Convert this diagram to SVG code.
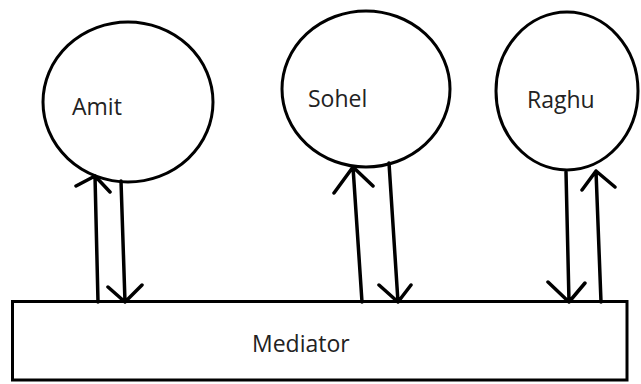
<svg xmlns="http://www.w3.org/2000/svg" width="641" height="384" viewBox="0 0 641 384">
<style>
.node{fill:#fff;stroke:#000;stroke-width:3}
.lbl{font-family:"Open Sans","Liberation Sans",sans-serif;font-size:23px;fill:#222}
.c{fill:none;stroke:#000;stroke-width:3.5;stroke-linecap:round;stroke-linejoin:round}
</style>
<rect width="641" height="384" fill="#fff"/>
<g id="amit"><ellipse class="node" cx="128" cy="102" rx="85" ry="80"/><text class="lbl" x="72" y="115">Amit</text></g>
<g id="sohel"><ellipse class="node" cx="366" cy="89" rx="84" ry="78"/><text class="lbl" x="308" y="107">Sohel</text></g>
<g id="raghu"><ellipse class="node" cx="567" cy="91" rx="71" ry="79"/><text class="lbl" x="527" y="108">Raghu</text></g>
<g id="mediator"><rect class="node" x="12.5" y="301.5" width="614.5" height="78.5"/><text class="lbl" x="252" y="352">Mediator</text></g>
<g id="connectors">
<path class="c" d="M98 302 L95 176 M76 186 L95 176 L110 192"/>
<path class="c" d="M121 181 L125 302 M108 287 L125 302 L142 285"/>
<path class="c" d="M362 302 L353 167 M334 193 L353 167 L373 186"/>
<path class="c" d="M389 163 L398 302 M379 285 L398 302 L411 285"/>
<path class="c" d="M566 172 L569 302 M548 282 L569 302 L585 283"/>
<path class="c" d="M601 302 L596 171 M582 190 L596 171 L615 187"/>
</g>
</svg>
